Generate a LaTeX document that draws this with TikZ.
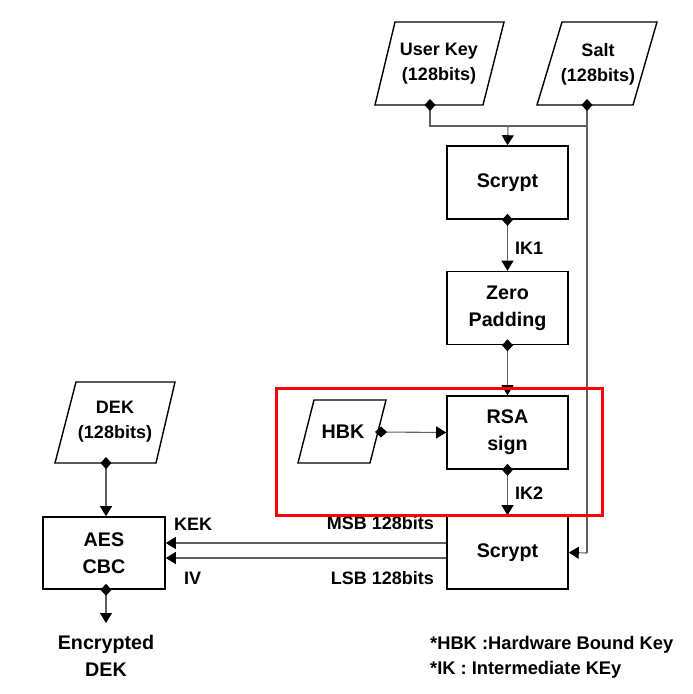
\documentclass[tikz,border=0pt]{standalone}
\usepackage{fontspec}
\setmainfont{Liberation Sans}
\usetikzlibrary{arrows.meta}
\definecolor{lineg}{RGB}{95,95,95}
\newcommand\labfont{\fontsize{19.7}{27}\selectfont\bfseries}
\newcommand\smfont{\fontsize{18}{25}\selectfont\bfseries}
\newcommand\legfont{\fontsize{18.3}{24}\selectfont\bfseries}
\begin{document}
\begin{tikzpicture}[x=1pt,y=-1pt,
  box/.style={draw=black, line width=1.6pt, minimum width=121pt, minimum height=73pt, align=center, font=\labfont, inner sep=0pt},
  para/.style={draw=black, line width=1.4pt},
  ptext/.style={align=center, font=\smfont, inner sep=0pt},
  lbl/.style={font=\smfont, inner sep=0pt},
  conn/.style={draw=lineg, line width=1.1pt},
  dstart/.style={{Diamond[color=black,fill=black,length=12pt,width=11pt]}-, shorten <=-6pt},
  tend/.style={-{Triangle[color=black,fill=black,length=10pt,width=12pt]}},
  dboth/.style={{Diamond[color=black,fill=black,length=12pt,width=11pt]}-{Triangle[color=black,fill=black,length=10pt,width=12pt]}, shorten <=-6pt},
]
\useasboundingbox (0,0) rectangle (693,694);
\fill[white] (0,0) rectangle (693,694);

% parallelograms
\draw[para] (395,22) -- (504,22) -- (483,105) -- (375,105) -- cycle;
\node[ptext] (uk) at (439,64) {User Key\\(128bits)};
\draw[para] (562,22) -- (657,22) -- (633,105) -- (537,105) -- cycle;
\node[ptext] (salt) at (598,64) {Salt\\(128bits)};
\draw[para] (314,400) -- (386,400) -- (370,463) -- (298,463) -- cycle;
\node[ptext, font=\labfont] (hbk) at (343,432) {HBK};
\draw[para] (76,382) -- (175,382) -- (156,463) -- (55,463) -- cycle;
\node[ptext] (dek) at (115,422) {DEK\\(128bits)};

\coordinate (ukb) at (430,105);
\coordinate (saltb) at (587,105);
\coordinate (hbkr) at (381,432);
\coordinate (dekb) at (106,463);

% boxes
\node[box] (scr1) at (507.5,182.5) {Scrypt};
\node[box] (zero) at (507.5,308) {Zero\\Padding};
\node[box] (rsa) at (507.5,432.5) {RSA\\sign};
\node[box] (scr2) at (507.5,552.5) {Scrypt};
\node[box, minimum width=122pt, minimum height=72pt] (aes) at (104,553) {AES\\CBC};

% junctions
\coordinate (j1) at (508,126);
\coordinate (j2) at (587,126);
\coordinate (j3) at (587,553);
\coordinate (enc) at (106,623);

% connectors
\draw[conn, dstart] (ukb) |- (j1);
\draw[conn, tend] (j1) -- (scr1.north);
\draw[conn] (j1) -- (j2);
\draw[conn, dstart] (saltb) -- (j3);
\draw[conn, tend] (j3) -- (scr2.east);
\draw[conn, dboth] (scr1.south) -- (zero.north);
\draw[conn, dboth] (zero.south) -- (rsa.north);
\draw[conn, dboth] (hbkr) -- (rsa.west);
\draw[conn, dboth] (rsa.south) -- (scr2.north);
\draw[conn, tend] ([yshift=9.5pt]scr2.west) -- ([yshift=9.5pt]scr2.west -| aes.east);
\draw[conn, tend] ([yshift=-5.5pt]scr2.west) -- ([yshift=-5.5pt]scr2.west -| aes.east);
\draw[conn, dboth] (dekb) -- (dekb |- aes.north);
\draw[conn, dboth] (dekb |- aes.south) -- (enc);

% labels
\node[lbl, anchor=west] (ik1) at (515,248) {IK1};
\node[lbl, anchor=west] (ik2) at (515,493) {IK2};
\node[lbl, anchor=west] (kek) at (174,524) {KEK};
\node[lbl, anchor=west] (iv) at (184,578) {IV};
\node[lbl, anchor=east] (msb) at (434,523) {MSB 128bits};
\node[lbl, anchor=east] (lsb) at (434,578) {LSB 128bits};
\node[ptext, font=\labfont, anchor=north] (encdek) at (106,635) {Encrypted\\DEK};

% highlight
\draw[red, line width=3pt] (276,388) rectangle (602,515);

% legend
\node[font=\legfont, anchor=west, inner sep=0pt] (leg1) at (430,645) {*HBK :Hardware Bound Key};
\node[font=\legfont, anchor=west, inner sep=0pt] (leg2) at (430,670) {*IK : Intermediate KEy};
\end{tikzpicture}
\end{document}
